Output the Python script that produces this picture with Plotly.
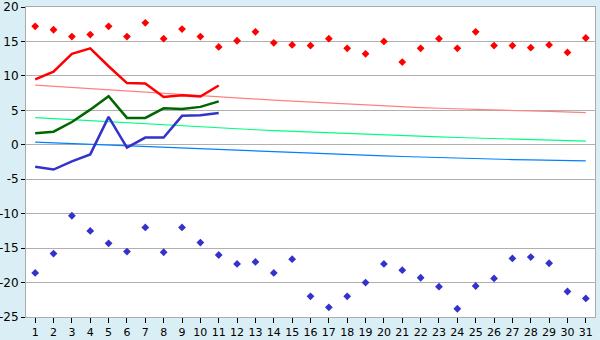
import plotly.graph_objects as go

days = list(range(1, 32))
max_points = [17.2, 16.7, 15.7, 16.0, 17.2, 15.7, 17.7, 15.4, 16.8, 15.7,
              14.2, 15.1, 16.4, 14.8, 14.5, 14.4, 15.4, 14.0, 13.2, 15.0,
              12.0, 14.0, 15.4, 14.0, 16.4, 14.4, 14.4, 14.1, 14.5, 13.4, 15.5]
min_points = [-18.6, -15.8, -10.3, -12.5, -14.3, -15.5, -12.0, -15.6, -12.0, -14.2,
              -16.0, -17.3, -17.0, -18.6, -16.6, -22.0, -23.6, -22.0, -20.0, -17.3,
              -18.2, -19.3, -20.6, -23.8, -20.5, -19.4, -16.5, -16.3, -17.2, -21.3, -22.3]
obs_days = list(range(1, 12))
obs_max = [9.5, 10.6, 13.2, 14.0, 11.4, 8.95, 8.9, 6.95, 7.2, 7.0, 8.6]
obs_mean = [1.67, 1.9, 3.3, 5.1, 7.05, 3.9, 3.9, 5.3, 5.2, 5.5, 6.3]
obs_min = [-3.2, -3.6, -2.4, -1.4, 4.05, -0.4, 1.05, 1.05, 4.2, 4.3, 4.6]
norm_max = [8.67, 8.5, 8.33, 8.15, 7.98, 7.8, 7.62, 7.44, 7.25, 7.07,
            6.92, 6.77, 6.62, 6.47, 6.33, 6.19, 6.05, 5.91, 5.76, 5.61,
            5.5, 5.4, 5.3, 5.2, 5.1, 5.0, 4.95, 4.9, 4.85, 4.75, 4.67]
norm_mean = [3.95, 3.8, 3.64, 3.48, 3.32, 3.17, 3.01, 2.85, 2.69, 2.53,
             2.41, 2.29, 2.18, 2.06, 1.95, 1.83, 1.72, 1.6, 1.49, 1.38,
             1.3, 1.22, 1.14, 1.06, 0.98, 0.9, 0.82, 0.75, 0.67, 0.6, 0.52]
norm_min = [0.38, 0.27, 0.16, 0.05, -0.06, -0.17, -0.28, -0.39, -0.5, -0.62,
            -0.72, -0.82, -0.92, -1.02, -1.12, -1.22, -1.32, -1.42, -1.52, -1.62,
            -1.7, -1.79, -1.88, -1.96, -2.05, -2.1, -2.15, -2.2, -2.25, -2.29, -2.33]
y_ticks = [-25, -20, -15, -10, -5, 0, 5, 10, 15, 20]

fig = go.Figure()
fig.add_trace(go.Scatter(x=days, y=norm_max, mode="lines", line=dict(color="#ff8080", width=1.2)))
fig.add_trace(go.Scatter(x=days, y=norm_mean, mode="lines", line=dict(color="#00ff80", width=1.2)))
fig.add_trace(go.Scatter(x=days, y=norm_min, mode="lines", line=dict(color="#0080ff", width=1.2)))
fig.add_trace(go.Scatter(x=obs_days, y=obs_max, mode="lines", line=dict(color="#ff0000", width=2.5)))
fig.add_trace(go.Scatter(x=obs_days, y=obs_mean, mode="lines", line=dict(color="#006600", width=2.5)))
fig.add_trace(go.Scatter(x=obs_days, y=obs_min, mode="lines", line=dict(color="#3333cc", width=2.5)))
fig.add_trace(go.Scatter(x=days, y=max_points, mode="markers",
                         marker=dict(symbol="diamond", size=6, color="#ff0000")))
fig.add_trace(go.Scatter(x=days, y=min_points, mode="markers",
                         marker=dict(symbol="diamond", size=6, color="#3333cc")))

fig.update_layout(
    width=600, height=340,
    margin=dict(l=26, r=5, t=7, b=23),
    paper_bgcolor="#daeff5",
    plot_bgcolor="#ffffff",
    showlegend=False,
    font=dict(family="DejaVu Sans", size=11, color="#000000"),
)
fig.update_xaxes(range=[0.5, 31.5], tickmode="array", tickvals=days,
                 ticktext=[str(d) for d in days], showgrid=False, zeroline=False,
                 showline=True, linecolor="#aaaaaa", linewidth=1, mirror=True,
                 ticks="outside", ticklen=5, tickcolor="#000000", tickfont=dict(size=11),
                 ticklabeloverflow="allow", ticklabelstandoff=0, automargin=False)
fig.update_yaxes(range=[-25, 20], tickmode="array", tickvals=y_ticks,
                 ticktext=[str(v) for v in y_ticks],
                 showgrid=True, gridcolor="#b0b0b0", gridwidth=1,
                 zeroline=False, showline=True, linecolor="#aaaaaa", linewidth=1, mirror=True,
                 ticks="outside", ticklen=4, tickcolor="#000000", tickfont=dict(size=12),
                 ticklabeloverflow="allow", automargin=False)

fig.write_html("out.html")
